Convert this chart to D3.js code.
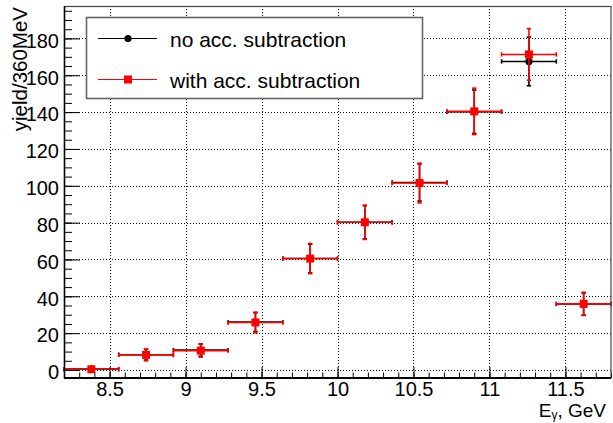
<!DOCTYPE html>
<html>
<head>
<meta charset="utf-8">
<script src="https://cdn.jsdelivr.net/npm/d3@7"></script>
<style>
  body { margin: 0; background: #fff; }
  text { font-family: "Liberation Sans", Arial, sans-serif; fill: #000; }
</style>
</head>
<body>
<script>
// bin centers (GeV), 360 MeV bins
var binCenters = [8.38, 8.74, 9.10, 9.46, 9.82, 10.18, 10.54, 10.90, 11.26, 11.62];
var binHalf = 0.18;
var yieldNoAcc = [0.5, 8.3, 10.8, 26.0, 60.5, 80.2, 101.8, 140.2, 167.5, 35.8];
var errNoAcc   = [1.0, 2.9, 3.3, 5.1, 7.8, 9.0, 10.1, 11.8, 13.2, 6.0];
var yieldAcc   = [0.4, 8.2, 10.5, 25.8, 60.5, 80.2, 101.5, 140.4, 171.3, 35.9];
var errAcc     = [1.1, 3.2, 3.5, 5.6, 8.2, 9.3, 10.8, 12.6, 14.0, 6.3];
var xTicks = [8.5, 9, 9.5, 10, 10.5, 11, 11.5];
var yTicks = [0, 20, 40, 60, 80, 100, 120, 140, 160, 180];
var legendLabels = ["no acc. subtraction", "with acc. subtraction"];

var width = 613, height = 423,
    frame = {left: 64, right: 611, top: 6, bottom: 378};

var svg = d3.select("body").append("svg")
    .attr("width", width)
    .attr("height", height);

var x = d3.scaleLinear().domain([8.2, 11.8]).range([frame.left, frame.right]);
var y = d3.scaleLinear().domain([-4.34, 197.6]).range([frame.bottom, frame.top]);

// grid
var grid = svg.append("g")
    .attr("stroke", "#000")
    .attr("stroke-width", 1)
    .attr("stroke-dasharray", "1,2");
grid.selectAll(".gx").data(xTicks).enter().append("line")
    .attr("x1", function(d) { return Math.round(x(d)) + 0.5; })
    .attr("x2", function(d) { return Math.round(x(d)) + 0.5; })
    .attr("y1", frame.top).attr("y2", frame.bottom);
grid.selectAll(".gy").data(yTicks).enter().append("line")
    .attr("y1", function(d) { return Math.round(y(d)) + 0.5; })
    .attr("y2", function(d) { return Math.round(y(d)) + 0.5; })
    .attr("x1", frame.left).attr("x2", frame.right);

// axes
var xMinor = d3.range(82, 119).map(function(i) { return i / 10; });
var yMinor = d3.range(0, 200, 5);
var plain = function(d) { return String(d); };

svg.append("g")
    .attr("transform", "translate(0," + frame.bottom + ")")
    .call(d3.axisBottom(x).tickValues(xMinor).tickFormat("").tickSize(-5.5).tickSizeOuter(0))
    .call(function(g) { g.select(".domain").remove(); });
svg.append("g")
    .attr("class", "xaxis")
    .attr("transform", "translate(0," + frame.bottom + ")")
    .call(d3.axisBottom(x).tickValues(xTicks).tickFormat(plain).tickSize(-11).tickSizeOuter(0).tickPadding(4))
    .call(function(g) { g.select(".domain").remove(); });

svg.append("g")
    .attr("transform", "translate(" + frame.left + ",0)")
    .call(d3.axisLeft(y).tickValues(yMinor).tickFormat("").tickSize(-8).tickSizeOuter(0))
    .call(function(g) { g.select(".domain").remove(); });
svg.append("g")
    .attr("class", "yaxis")
    .attr("transform", "translate(" + frame.left + ",0)")
    .call(d3.axisLeft(y).tickValues(yTicks).tickFormat(plain).tickSize(-16).tickSizeOuter(0).tickPadding(5))
    .call(function(g) { g.select(".domain").remove(); });

svg.selectAll(".tick text")
    .attr("font-size", 20)
    .attr("font-family", "Liberation Sans, Arial, sans-serif");
svg.selectAll(".yaxis .tick text").attr("dy", "0.44em");

// data series
function drawSeries(vals, errs, color, marker) {
  var g = svg.append("g")
      .attr("stroke", color)
      .attr("stroke-width", 1.6)
      .attr("fill", color);
  var pts = g.selectAll(".pt").data(binCenters.map(function(c, i) {
    return {x: c, y: vals[i], e: errs[i]};
  })).enter().append("g");
  pts.append("line")
      .attr("x1", function(d) { return x(d.x - binHalf); })
      .attr("x2", function(d) { return x(d.x + binHalf); })
      .attr("y1", function(d) { return y(d.y); })
      .attr("y2", function(d) { return y(d.y); });
  pts.append("line")
      .attr("x1", function(d) { return x(d.x); })
      .attr("x2", function(d) { return x(d.x); })
      .attr("y1", function(d) { return y(d.y - d.e); })
      .attr("y2", function(d) { return y(d.y + d.e); });
  [-binHalf, binHalf].forEach(function(s) {
    pts.append("line")
        .attr("x1", function(d) { return x(d.x + s); })
        .attr("x2", function(d) { return x(d.x + s); })
        .attr("y1", function(d) { return y(d.y) - 2.2; })
        .attr("y2", function(d) { return y(d.y) + 2.2; });
  });
  [-1, 1].forEach(function(s) {
    pts.append("line")
        .attr("x1", function(d) { return x(d.x) - 2.2; })
        .attr("x2", function(d) { return x(d.x) + 2.2; })
        .attr("y1", function(d) { return y(d.y + s * d.e); })
        .attr("y2", function(d) { return y(d.y + s * d.e); });
  });
  if (marker == "circle") {
    pts.append("circle")
        .attr("cx", function(d) { return x(d.x); })
        .attr("cy", function(d) { return y(d.y); })
        .attr("r", 3.6)
        .attr("stroke", "none");
  } else {
    pts.append("rect")
        .attr("x", function(d) { return x(d.x) - 4; })
        .attr("y", function(d) { return y(d.y) - 4; })
        .attr("width", 8).attr("height", 8)
        .attr("stroke", "none");
  }
}
drawSeries(yieldNoAcc, errNoAcc, "#000", "circle");
drawSeries(yieldAcc, errAcc, "#ff0000", "square");

// frame
svg.append("rect")
    .attr("x", frame.left + 0.5).attr("y", frame.top + 0.5)
    .attr("width", frame.right - frame.left - 0.5)
    .attr("height", frame.bottom - frame.top - 0.5)
    .attr("fill", "none")
    .attr("stroke", "#444")
    .attr("stroke-width", 1.2);
svg.append("line")
    .attr("x1", frame.left).attr("x2", frame.right)
    .attr("y1", frame.bottom).attr("y2", frame.bottom)
    .attr("stroke", "#000").attr("stroke-width", 2);
svg.append("line")
    .attr("x1", frame.left + 0.5).attr("x2", frame.left + 0.5)
    .attr("y1", frame.top).attr("y2", frame.bottom)
    .attr("stroke", "#000").attr("stroke-width", 1.5);

// axis titles
var xt = svg.append("text")
    .attr("x", 606).attr("y", 417)
    .attr("text-anchor", "end")
    .attr("font-size", 19);
xt.append("tspan").text("E");
xt.append("tspan").attr("font-size", 12).attr("dy", 2).text("\u03b3");
xt.append("tspan").attr("dy", -2).text(", GeV");

svg.append("text")
    .attr("transform", "translate(27,7) rotate(-90)")
    .attr("text-anchor", "end")
    .attr("font-size", 20.5)
    .text("yield/360MeV");

// legend
var leg = svg.append("g");
leg.append("rect")
    .attr("x", 86.5).attr("y", 17.5)
    .attr("width", 336).attr("height", 81)
    .attr("fill", "#fff")
    .attr("stroke", "#666")
    .attr("stroke-width", 1.6);
var legColors = ["#000", "#ff0000"];
var legY = [38.5, 79.5];
leg.selectAll(".ll").data(legendLabels).enter().append("line")
    .attr("x1", 98).attr("x2", 157)
    .attr("y1", function(d, i) { return legY[i]; })
    .attr("y2", function(d, i) { return legY[i]; })
    .attr("stroke", function(d, i) { return legColors[i]; })
    .attr("stroke-width", 1.2);
leg.append("circle").attr("cx", 128).attr("cy", legY[0]).attr("r", 3.6).attr("fill", legColors[0]);
leg.append("rect").attr("x", 124).attr("y", legY[1] - 4).attr("width", 8).attr("height", 8).attr("fill", legColors[1]);
leg.selectAll(".lt").data(legendLabels).enter().append("text")
    .attr("x", 170)
    .attr("y", function(d, i) { return legY[i] + 8.5; })
    .attr("font-size", 21)
    .text(function(d) { return d; });
</script>
</body>
</html>
